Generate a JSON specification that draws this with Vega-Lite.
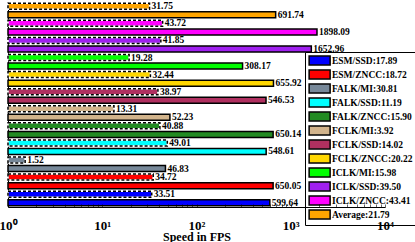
{
  "$schema": "https://vega.github.io/schema/vega-lite/v6.json",
  "width": 377,
  "height": 205,
  "autosize": {"type": "none"},
  "padding": {"left": 8, "top": 2, "right": 30, "bottom": 35},
  "background": "white",
  "config": {
    "view": {"stroke": null},
    "font": "Liberation Serif"
  },
  "data": {
    "values": [
      {"method": "ESM/SSD:17.89", "kind": "solid", "fps": 599.64},
      {"method": "ESM/SSD:17.89", "kind": "dashed", "fps": 33.51},
      {"method": "ESM/ZNCC:18.72", "kind": "solid", "fps": 650.05},
      {"method": "ESM/ZNCC:18.72", "kind": "dashed", "fps": 34.72},
      {"method": "FALK/MI:30.81", "kind": "solid", "fps": 46.83},
      {"method": "FALK/MI:30.81", "kind": "dashed", "fps": 1.52},
      {"method": "FALK/SSD:11.19", "kind": "solid", "fps": 548.61},
      {"method": "FALK/SSD:11.19", "kind": "dashed", "fps": 49.01},
      {"method": "FALK/ZNCC:15.90", "kind": "solid", "fps": 650.14},
      {"method": "FALK/ZNCC:15.90", "kind": "dashed", "fps": 40.88},
      {"method": "FCLK/MI:3.92", "kind": "solid", "fps": 52.23},
      {"method": "FCLK/MI:3.92", "kind": "dashed", "fps": 13.31},
      {"method": "FCLK/SSD:14.02", "kind": "solid", "fps": 546.53},
      {"method": "FCLK/SSD:14.02", "kind": "dashed", "fps": 38.97},
      {"method": "FCLK/ZNCC:20.22", "kind": "solid", "fps": 655.92},
      {"method": "FCLK/ZNCC:20.22", "kind": "dashed", "fps": 32.44},
      {"method": "ICLK/MI:15.98", "kind": "solid", "fps": 308.17},
      {"method": "ICLK/MI:15.98", "kind": "dashed", "fps": 19.28},
      {"method": "ICLK/SSD:39.50", "kind": "solid", "fps": 1652.96},
      {"method": "ICLK/SSD:39.50", "kind": "dashed", "fps": 41.85},
      {"method": "ICLK/ZNCC:43.41", "kind": "solid", "fps": 1898.09},
      {"method": "ICLK/ZNCC:43.41", "kind": "dashed", "fps": 43.72},
      {"method": "Average:21.79", "kind": "solid", "fps": 691.74},
      {"method": "Average:21.79", "kind": "dashed", "fps": 31.75}
    ]
  },
  "encoding": {
    "y": {
      "field": "method",
      "type": "nominal",
      "sort": ["Average:21.79", "ICLK/ZNCC:43.41", "ICLK/SSD:39.50", "ICLK/MI:15.98", "FCLK/ZNCC:20.22", "FCLK/SSD:14.02", "FCLK/MI:3.92", "FALK/ZNCC:15.90", "FALK/SSD:11.19", "FALK/MI:30.81", "ESM/ZNCC:18.72", "ESM/SSD:17.89"],
      "scale": {"paddingInner": 0, "paddingOuter": 0},
      "axis": {"labels": false, "ticks": false, "title": null, "domainColor": "black", "domainWidth": 1}
    },
    "yOffset": {
      "field": "kind",
      "type": "nominal",
      "sort": ["dashed", "solid"],
      "scale": {"paddingInner": 0.3, "paddingOuter": 0.15}
    },
    "x": {
      "field": "fps",
      "type": "quantitative",
      "scale": {"type": "log", "domain": [1, 10000]},
      "axis": {
        "title": "Speed in FPS",
        "titleFont": "Liberation Serif",
        "titleFontWeight": "bold",
        "titleFontSize": 12,
        "titleColor": "black",
        "titlePadding": -1,
        "values": [1,2,3,4,5,6,7,8,9,10,20,30,40,50,60,70,80,90,100,200,300,400,500,600,700,800,900,1000,2000,3000,4000,5000,6000,7000,8000,9000,10000],
        "labelExpr": "datum.value < 1.5 ? '10⁰' : (datum.value > 9.5 && datum.value < 10.5) ? '10¹' : (datum.value > 99 && datum.value < 101) ? '10²' : (datum.value > 999 && datum.value < 1001) ? '10³' : datum.value > 9990 ? '10⁴' : ''",
        "labelFont": "Liberation Serif",
        "labelFontWeight": "bold",
        "labelFontSize": 13,
        "labelColor": "black",
        "labelPadding": 15,
        "labelFlush": false,
        "labelBound": false,
        "labelOverlap": false,
        "zindex": 1,
        "tickSize": -3,
        "tickColor": "black",
        "tickWidth": 0.6,
        "domainColor": "black",
        "domainWidth": 1,
        "grid": false
      }
    }
  },
  "layer": [
    {
      "mark": {"type": "bar", "strokeWidth": 1.5, "fillOpacity": 1},
      "encoding": {
        "x2": {"datum": 1},
        "color": {
          "field": "method",
          "type": "nominal",
          "sort": ["ESM/SSD:17.89", "ESM/ZNCC:18.72", "FALK/MI:30.81", "FALK/SSD:11.19", "FALK/ZNCC:15.90", "FCLK/MI:3.92", "FCLK/SSD:14.02", "FCLK/ZNCC:20.22", "ICLK/MI:15.98", "ICLK/SSD:39.50", "ICLK/ZNCC:43.41", "Average:21.79"],
          "scale": {
            "domain": ["ESM/SSD:17.89", "ESM/ZNCC:18.72", "FALK/MI:30.81", "FALK/SSD:11.19", "FALK/ZNCC:15.90", "FCLK/MI:3.92", "FCLK/SSD:14.02", "FCLK/ZNCC:20.22", "ICLK/MI:15.98", "ICLK/SSD:39.50", "ICLK/ZNCC:43.41", "Average:21.79"],
            "range": ["#0000FF", "#FF0000", "#778899", "#00FFFF", "#228B22", "#D2B48C", "#B03060", "#FFD700", "#00FF00", "#A020F0", "#FF00FF", "#FFA500"]
          },
          "legend": {
            "orient": "none",
            "legendX": 297,
            "legendY": 50,
            "title": null,
            "strokeColor": "black",
            "fillColor": "white",
            "padding": 3,
            "symbolType": "M-1,-1H3.8V1H-1Z",
            "symbolSize": 76.6,
            "symbolStrokeColor": "black",
            "symbolStrokeWidth": 1.5,
            "symbolOpacity": 1,
            "labelFont": "Liberation Serif",
            "labelFontWeight": "bold",
            "labelFontSize": 9.5,
            "labelColor": "black",
            "labelOffset": 13,
            "labelLimit": 200,
            "rowPadding": -1
          }
        },
        "stroke": {"condition": {"test": "datum.kind == 'dashed'", "value": "white"}, "value": "black"}
      }
    },
    {
      "transform": [{"filter": "datum.kind == 'dashed'"}],
      "mark": {"type": "bar", "fill": "white", "fillOpacity": 0, "stroke": "black", "strokeWidth": 1.5, "strokeDash": [3, 2]},
      "encoding": {"x2": {"datum": 1}}
    },
    {
      "mark": {"type": "text", "align": "left", "baseline": "middle", "dx": 2, "font": "Liberation Serif", "fontWeight": "bold", "fontSize": 9.5, "color": "black"},
      "encoding": {
        "text": {"field": "fps", "type": "quantitative", "format": ".2f"}
      }
    }
  ]
}
